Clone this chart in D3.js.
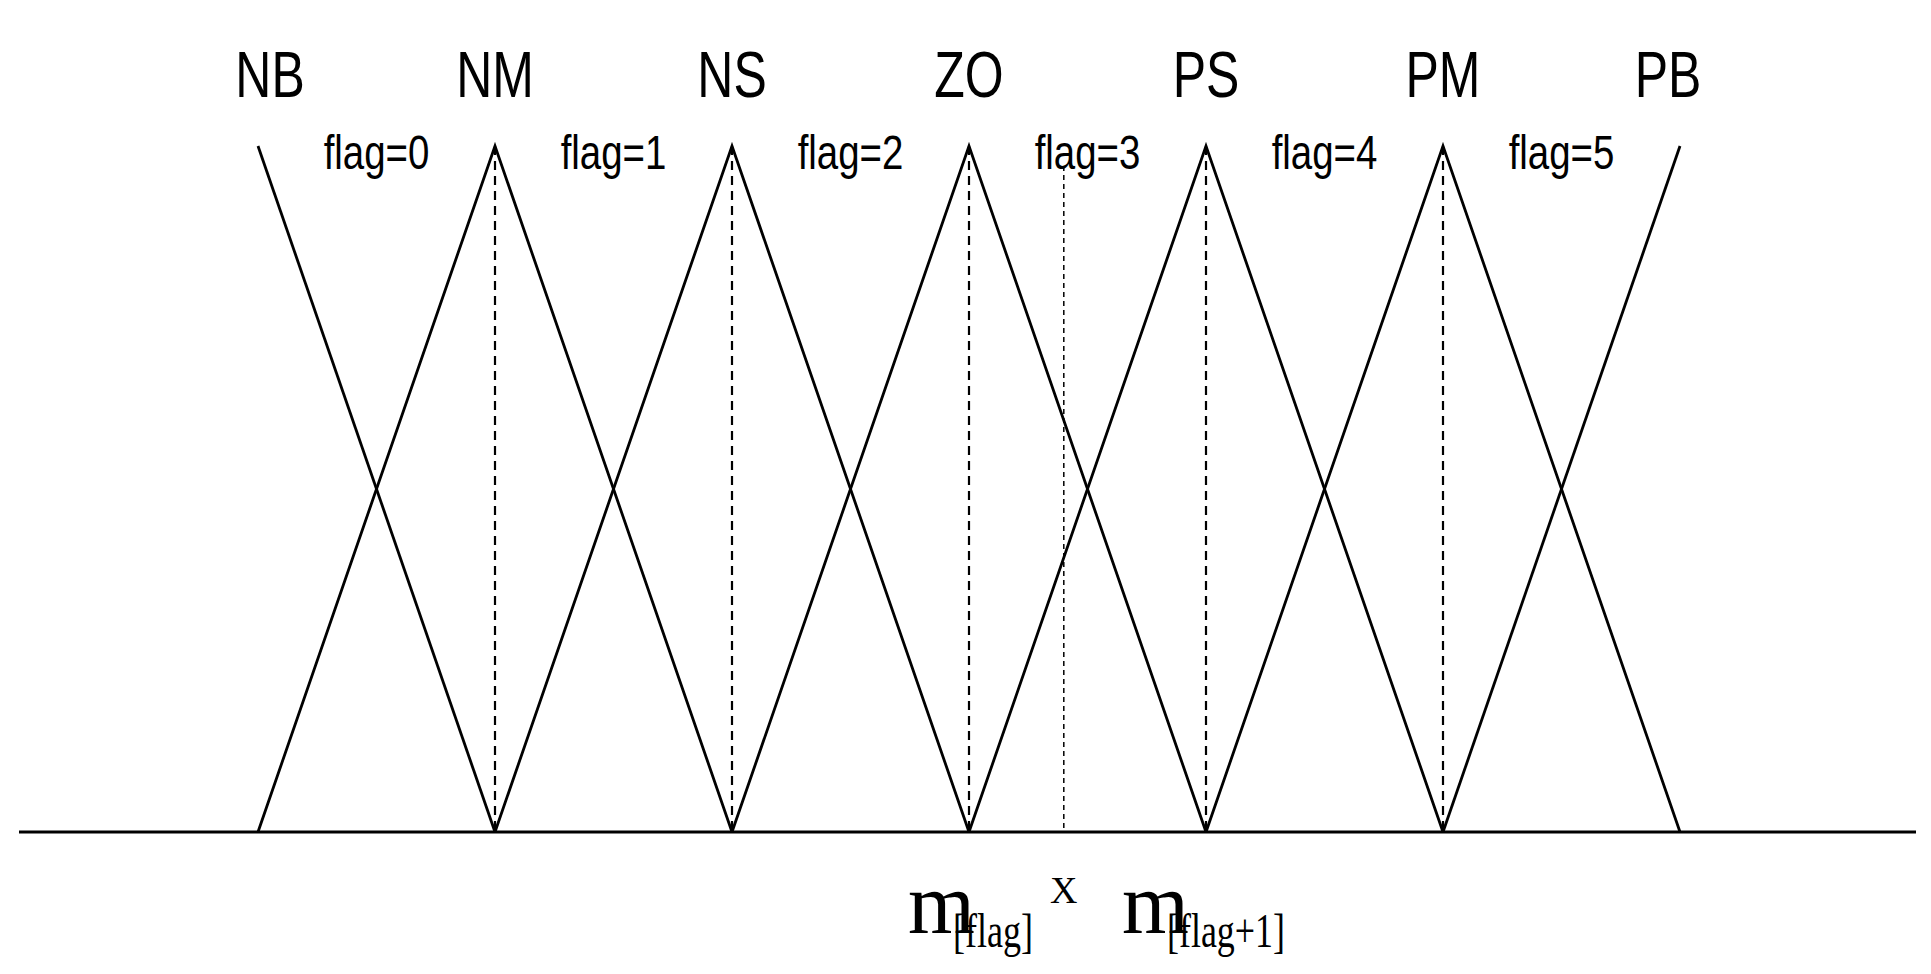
<!DOCTYPE html>
<html><head><meta charset="utf-8">
<script src="https://cdn.jsdelivr.net/npm/d3@7"></script>
<style>body{margin:0;background:#fff}</style></head>
<body><svg width="1931" height="974"></svg>
<script>
// fuzzy sets: label, centre index
var setLabels = ['NB', 'NM', 'NS', 'ZO', 'PS', 'PM', 'PB'];
var centers = [0, 1, 2, 3, 4, 5, 6];
var flagLabels = ['flag=0', 'flag=1', 'flag=2', 'flag=3', 'flag=4', 'flag=5'];
var xInput = 3.4;

var svg = d3.select('svg');
var x = d3.scaleLinear().domain([0, 6]).range([258, 1680]);
var y = d3.scaleLinear().domain([0, 1]).range([832, 146]);

// baseline
svg.append('line')
   .attr('x1', 19).attr('x2', 1916)
   .attr('y1', y(0)).attr('y2', y(0))
   .attr('stroke', '#000').attr('stroke-width', 3);

// triangles (edge sets only have one side)
var line = d3.line().x(function (d) { return x(d[0]); }).y(function (d) { return y(d[1]); });
centers.forEach(function (c, i) {
  var pts = [];
  if (i > 0) pts.push([c - 1, 0]);
  pts.push([c, 1]);
  if (i < centers.length - 1) pts.push([c + 1, 0]);
  svg.append('path').attr('d', line(pts))
     .attr('fill', 'none').attr('stroke', '#000').attr('stroke-width', 2.8);
  if (i > 0 && i < centers.length - 1) {
    svg.append('line')
       .attr('x1', x(c)).attr('x2', x(c)).attr('y1', y(1)).attr('y2', y(0))
       .attr('stroke', '#000').attr('stroke-width', 2.2).attr('stroke-dasharray', '9,6');
  }
});

// input position
svg.append('line')
   .attr('x1', x(xInput)).attr('x2', x(xInput)).attr('y1', 166).attr('y2', y(0))
   .attr('stroke', '#000').attr('stroke-width', 1.5).attr('stroke-dasharray', '5,4');

// condensed look: squeeze sans text horizontally
var sans = '"Liberation Sans", Arial, sans-serif';
svg.selectAll('text.set').data(setLabels).enter().append('text')
   .attr('transform', function (d, i) {
     var px = x(centers[i]) + (i === 0 ? 12 : (i === 6 ? -12 : 0));
     return 'translate(' + px + ',97) scale(0.78,1)';
   })
   .attr('text-anchor', 'middle')
   .attr('font-family', sans).attr('font-size', 64)
   .text(function (d) { return d; });

svg.selectAll('text.flag').data(flagLabels).enter().append('text')
   .attr('transform', function (d, i) { return 'translate(' + x(i + 0.5) + ',169) scale(0.8,1)'; })
   .attr('text-anchor', 'middle')
   .attr('font-family', sans).attr('font-size', 48)
   .text(function (d) { return d; });

var serif = '"Liberation Serif", "Times New Roman", serif';
function mLabel(px, sub, w) {
  svg.append('text').attr('x', px).attr('y', 933)
     .attr('font-family', serif).attr('font-size', 86).text('m');
  svg.append('text').attr('x', px + 45).attr('y', 947)
     .attr('font-family', serif).attr('font-size', 48)
     .attr('textLength', w).attr('lengthAdjust', 'spacingAndGlyphs')
     .text(sub);
}
mLabel(908, '[flag]', 80);
mLabel(1122, '[flag+1]', 118);
svg.append('text').attr('x', x(xInput)).attr('y', 903)
   .attr('text-anchor', 'middle')
   .attr('font-family', serif).attr('font-size', 38).text('X');
</script></body></html>
